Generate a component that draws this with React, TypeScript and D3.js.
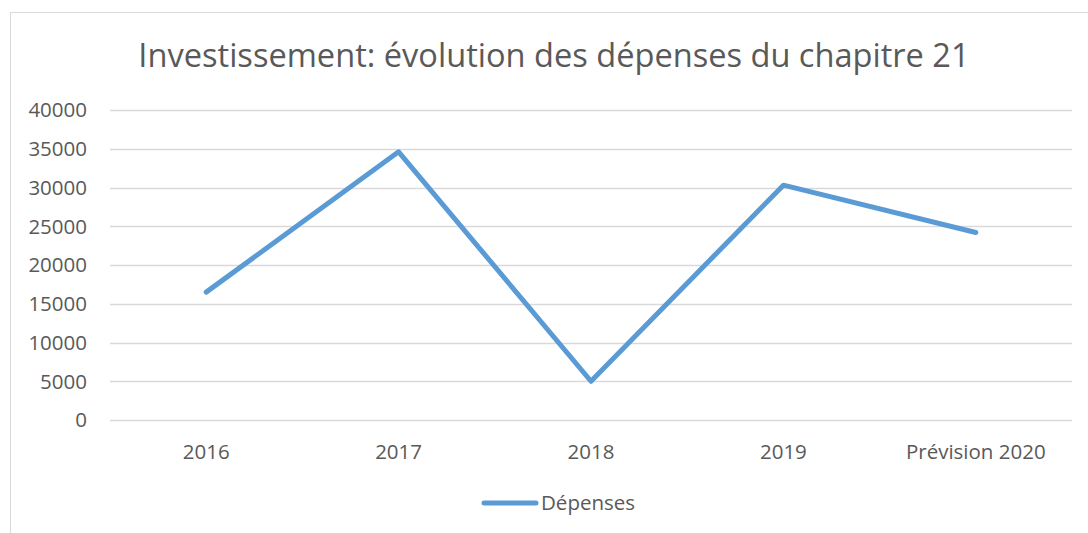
import { useEffect, useRef } from 'react';
import * as d3 from 'd3';

// chart values
const categories = ['2016', '2017', '2018', '2019', 'Prévision 2020'];
const depenses = [16500, 34600, 5000, 30300, 24200];
const yTicks = [0, 5000, 10000, 15000, 20000, 25000, 30000, 35000, 40000];
const seriesName = 'Dépenses';
const title = 'Investissement: évolution des dépenses du chapitre 21';

const W = 1088;
const H = 533;
const FONT = '"Open Sans", sans-serif';
const TEXT = '#595959';
const LINE = '#5B9BD5';

const App = () => {
  const chartRef = useRef<SVGSVGElement>(null);

  useEffect(() => {
    const svg = d3.select(chartRef.current);
    svg.selectAll('*').remove();

    const margin = { top: 110, right: 16, bottom: 113, left: 110 };
    const width = W - margin.left - margin.right;
    const height = H - margin.top - margin.bottom;

    svg.append('rect').attr('width', W).attr('height', H).attr('fill', '#fff');

    // outer chart frame (cut by the picture on right and bottom)
    svg
      .append('rect')
      .attr('x', 10.5)
      .attr('y', 12.5)
      .attr('width', W + 20)
      .attr('height', H + 20)
      .attr('fill', 'none')
      .attr('stroke', '#d9d9d9')
      .attr('stroke-width', 1);

    svg
      .append('text')
      .attr('x', 554)
      .attr('y', 67)
      .attr('text-anchor', 'middle')
      .attr('font-family', FONT)
      .attr('font-size', 32.6)
      .attr('fill', TEXT)
      .text(title);

    const g = svg.append('g').attr('transform', `translate(${margin.left},${margin.top})`);

    const x = d3.scaleBand().domain(categories).range([0, width]);
    const y = d3.scaleLinear().domain([0, 40000]).range([height, 0]);

    // gridlines
    g.selectAll('line.grid')
      .data(yTicks)
      .enter()
      .append('line')
      .attr('class', 'grid')
      .attr('x1', 0)
      .attr('x2', width)
      .attr('y1', (d) => Math.round(y(d)) + 0.5)
      .attr('y2', (d) => Math.round(y(d)) + 0.5)
      .attr('stroke', '#d9d9d9')
      .attr('stroke-width', 1.5);

    // y labels
    g.selectAll('text.ylab')
      .data(yTicks)
      .enter()
      .append('text')
      .attr('class', 'ylab')
      .attr('x', -23)
      .attr('y', (d) => y(d))
      .attr('dy', '0.36em')
      .attr('text-anchor', 'end')
      .attr('font-family', FONT)
      .attr('font-size', 20.5)
      .attr('fill', TEXT)
      .text((d) => String(d));

    // x labels
    g.selectAll('text.xlab')
      .data(categories)
      .enter()
      .append('text')
      .attr('class', 'xlab')
      .attr('x', (d) => (x(d) ?? 0) + x.bandwidth() / 2)
      .attr('y', height + 39)
      .attr('text-anchor', 'middle')
      .attr('font-family', FONT)
      .attr('font-size', 20.5)
      .attr('fill', TEXT)
      .text((d) => d);

    const line = d3
      .line<number>()
      .x((_, i) => (x(categories[i]) ?? 0) + x.bandwidth() / 2)
      .y((d) => y(d));

    g.append('path')
      .datum(depenses)
      .attr('d', line)
      .attr('fill', 'none')
      .attr('stroke', LINE)
      .attr('stroke-width', 5)
      .attr('stroke-linejoin', 'round')
      .attr('stroke-linecap', 'round');

    // legend
    const leg = svg.append('g').attr('transform', 'translate(484,503)');
    leg
      .append('line')
      .attr('x1', 0)
      .attr('x2', 52)
      .attr('y1', 0)
      .attr('y2', 0)
      .attr('stroke', LINE)
      .attr('stroke-width', 5)
      .attr('stroke-linecap', 'round');
    leg
      .append('text')
      .attr('x', 57)
      .attr('y', 0)
      .attr('dy', '0.36em')
      .attr('font-family', FONT)
      .attr('font-size', 20.5)
      .attr('fill', TEXT)
      .text(seriesName);

    return () => {
      d3.select(chartRef.current).selectAll('*').remove();
    };
  }, []);

  return (
    <div style={{ position: 'absolute', left: 0, top: 0 }}>
      <svg ref={chartRef} width={W} height={H} style={{ display: 'block' }}></svg>
    </div>
  );
};

export default App;
